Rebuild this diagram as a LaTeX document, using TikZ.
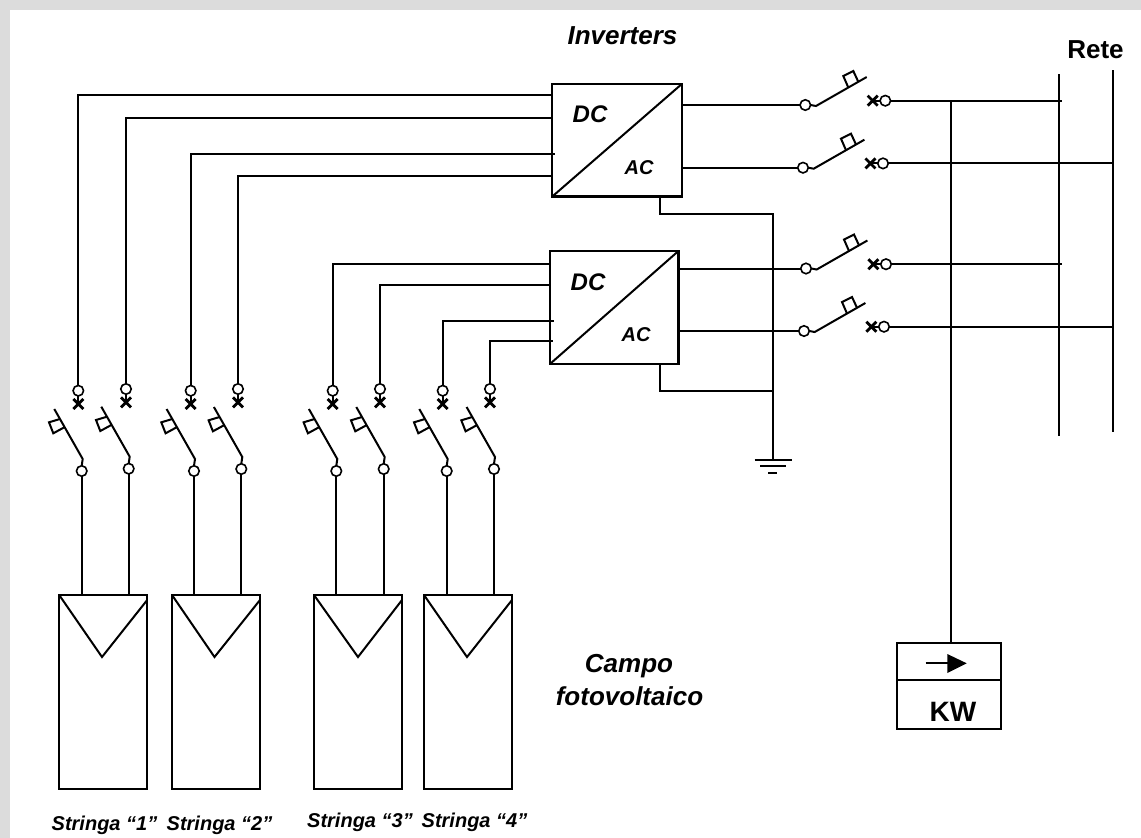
\documentclass[tikz,border=0pt]{standalone}
\usepackage{fontspec}
\setmainfont{Liberation Sans}
\usetikzlibrary{shapes.misc}
\definecolor{bandgrey}{HTML}{DCDCDC}
\tikzset{
  wire/.style={line width=2pt,line cap=butt,line join=miter},
  thinwire/.style={line width=2pt},
  term/.style={circle,draw,line width=1.6pt,fill=white,minimum size=10.5pt,inner sep=0pt,outer sep=0pt},
  xmark/.style={cross out,draw,line width=2.8pt,minimum size=10pt,inner sep=0pt,outer sep=0pt},
  blockbox/.style={rectangle,draw,line width=2.2pt,fill=white,inner sep=0pt,outer sep=0pt},
  panelbox/.style={rectangle,draw,line width=2pt,fill=white,inner sep=0pt,outer sep=0pt,minimum width=88pt,minimum height=194pt},
  lab/.style={inner sep=0pt,font=\bfseries\itshape},
}
\newcommand{\fs}[1]{\fontsize{#1}{#1}\selectfont}
% vertical (string side) switch: name, lower x,y, upper x,y
\newcommand{\vsw}[5]{%
  \node[term] (#1l) at (#2,#3) {};
  \node[term] (#1u) at (#4,#5) {};
  \node[xmark] (#1x) at (#4,#5+13.3) {};
  \draw[thinwire] (#1u.south) -- (#1x.center);
  \begin{scope}[shift={(#2,#3)}]
    \coordinate (#1b) at (1,-12);
    \draw[wire] (#1l.north) -- (#1b) -- (-27.4,-62);
    \draw[thinwire] (-21.7,-52) -- (-32.7,-48.7) -- (-28.4,-37.7) -- (-17.4,-43.7);
  \end{scope}
}
% horizontal (grid side) switch: name, left x,y
\newcommand{\hsw}[3]{%
  \node[term] (#1l) at (#2,#3) {};
  \node[term] (#1r) at (#2+80,#3-4.3) {};
  \node[xmark] (#1x) at (#2+67.4,#3-4.3) {};
  \draw[thinwire] (#1x.center) -- (#1r.west);
  \begin{scope}[shift={(#2,#3)}]
    \draw[wire] (#1l.east) -- (10.7,1) -- (61.4,-28);
    \draw[thinwire] (43,-17.5) -- (38,-29) -- (48,-34) -- (53,-23.2);
  \end{scope}
}
\begin{document}
\begin{tikzpicture}[x=1pt,y=-1pt]
\useasboundingbox (0,0) rectangle (1141,838);
\fill[white] (0,0) rectangle (1141,838);
\fill[bandgrey] (0,0) rectangle (1141,10);
\fill[bandgrey] (0,0) rectangle (10,838);

% Inverters
\node[blockbox,minimum width=129.5pt,minimum height=112.5pt] (inv1) at (617,140.3) {};
\node[blockbox,minimum width=128.5pt,minimum height=113pt] (inv2) at (614.2,307.5) {};
\draw[wire] (inv1.south west) -- (inv1.north east);
\draw[wire] (inv2.south west) -- (inv2.north east);
\node[lab,font=\fs{24}\bfseries\itshape] (dc1) at (590,114) {DC};
\node[lab,font=\fs{20}\bfseries\itshape] (ac1) at (639,168) {AC};
\node[lab,font=\fs{24}\bfseries\itshape] (dc2) at (588,282) {DC};
\node[lab,font=\fs{20}\bfseries\itshape] (ac2) at (636,335) {AC};

% String side switches
\vsw{a}{81.7}{471}{78.3}{390.7}
\vsw{b}{128.7}{468.7}{126}{389}
\vsw{c}{194}{471}{190.7}{390.7}
\vsw{d}{241.3}{469}{238}{389}
\vsw{e}{336.3}{471}{332.7}{390.7}
\vsw{f}{383.7}{469}{380}{389}
\vsw{g}{446.7}{471}{442.7}{390.7}
\vsw{h}{494}{469}{490}{389}

% Panels
\node[panelbox] (p1) at (103.2,692) {};
\node[panelbox] (p2) at (216,692) {};
\node[panelbox] (p3) at (358,692) {};
\node[panelbox] (p4) at (468,692) {};
\draw[wire] (p1.north west) -- (102,657) -- (p1.east |- 0,600);
\draw[wire] (p2.north west) -- (214.5,657) -- (p2.east |- 0,600);
\draw[wire] (p3.north west) -- (358,657) -- (p3.east |- 0,600);
\draw[wire] (p4.north west) -- (467,657) -- (p4.east |- 0,600);

% String wires to inverters
\coordinate (ia) at (552.3,95);
\coordinate (ib) at (552.3,117.7);
\coordinate (ic) at (555,153.7);
\coordinate (id) at (552.3,176);
\coordinate (ie) at (550,264.3);
\coordinate (if) at (550,284.7);
\coordinate (ig) at (553.5,320.7);
\coordinate (ih) at (553,341);
\foreach \n in {a,b,c,d,e,f,g,h}{
  \draw[wire] (\n u.north) |- (i\n);
}
\foreach \n/\pn in {a/1,b/1,c/2,d/2,e/3,f/3,g/4,h/4}{
  \draw[wire] (\n l.south) -- (\n l.south |- p\pn.north);
}

% Grid side switches
\hsw{s}{805.3}{105}
\hsw{t}{803}{167.7}
\hsw{v}{806}{268.5}
\hsw{w}{804}{331}

% Buses
\coordinate (bus1top) at (1059,74);
\coordinate (bus1bot) at (1059,436);
\coordinate (bus2top) at (1113,70);
\coordinate (bus2bot) at (1113,432);
\draw[wire] (bus1top) -- (bus1bot);
\draw[wire] (bus2top) -- (bus2bot);

% Inverter outputs
\draw[wire] (inv1.east |- sl) -- (sl.west);
\draw[wire] (inv1.east |- tl) -- (tl.west);
\draw[wire] (inv2.east |- vl) -- (vl.west);
\draw[wire] (inv2.east |- wl) -- (wl.west);

% To the buses
\draw[wire] (sr.east) -- (1062,0 |- sr);
\draw[wire] (tr.east) -- (bus2top |- tr);
\draw[wire] (vr.east) -- (1062,0 |- vr);
\draw[wire] (wr.east) -- (bus2top |- wr);

% Meter
\node[blockbox,minimum width=104pt,minimum height=85.7pt] (meter) at (948.7,686.2) {};
\draw[wire] (meter.west |- 0,679.7) -- (meter.east |- 0,679.7);
\coordinate (mj) at (951,100.5);
\draw[wire] (mj) -- (mj |- meter.north);
\coordinate (arrA) at (925.7,663.3);
\coordinate (arrB) at (948,663.3);
\draw[wire] (arrA) -- (arrB);
\fill (947.3,654) -- (966.7,663.3) -- (947.3,673) -- cycle;
\node[inner sep=0pt,font=\fs{28}\bfseries] (kw) at (953,711.7) {KW};

% Earth
\coordinate (g1) at (660.3,196.7);
\coordinate (g2) at (660.3,214.3);
\coordinate (g3) at (773,214.3);
\coordinate (gnd) at (773,460.3);
\draw[wire] (inv1.south -| g1) -- (g2) -- (g3) -- (gnd);
\coordinate (h1) at (660,391);
\draw[wire] (inv2.south -| h1) -- (h1) -- (h1 -| gnd);
\draw[wire] (754.5,460.3) -- (792,460.3);
\draw[wire] (760,465.7) -- (785.5,465.7);
\draw[wire] (768,472.7) -- (777,472.7);

% Labels
\node[lab,font=\fs{26}\bfseries\itshape] (tinv) at (622.5,36) {Inverters};
\node[inner sep=0pt,font=\fs{26}\bfseries] (trete) at (1095.5,50) {Rete};
\node[lab,font=\fs{26}\bfseries\itshape] (tc1) at (629,666) {Campo};
\node[lab,font=\fs{26}\bfseries\itshape] (tc2) at (629.5,696) {fotovoltaico};
\node[lab,font=\fs{20}\bfseries\itshape] (s1) at (104.5,825) {Stringa “1”};
\node[lab,font=\fs{20}\bfseries\itshape] (s2) at (219.5,825) {Stringa “2”};
\node[lab,font=\fs{20}\bfseries\itshape] (s3) at (360,822) {Stringa “3”};
\node[lab,font=\fs{20}\bfseries\itshape] (s4) at (474.5,822) {Stringa “4”};
\end{tikzpicture}
\end{document}
